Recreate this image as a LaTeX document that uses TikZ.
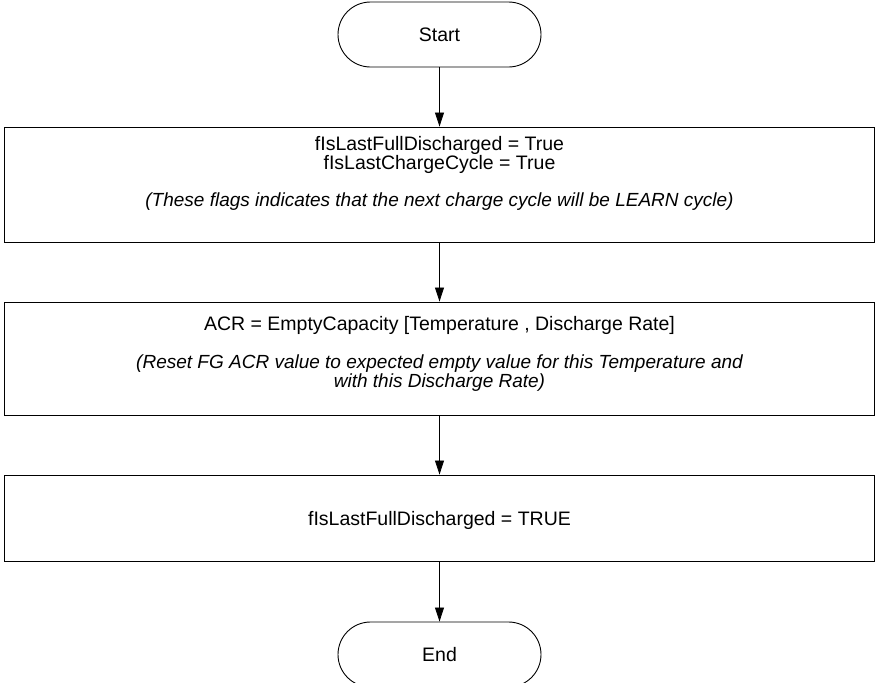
\documentclass[tikz,border=0pt]{standalone}
\usepackage{fontspec}
\setmainfont{Liberation Sans}
\usetikzlibrary{arrows.meta}
\begin{document}
\begin{tikzpicture}[x=1pt,y=-1pt,
  term/.style={draw, line width=0.9pt, rounded corners=32.5pt, minimum width=203pt,
    minimum height=65pt, inner sep=0pt, font=\fontsize{19.5}{22}\selectfont},
  procbox/.style={draw, line width=0.9pt, minimum width=870pt, inner sep=0pt},
  txt/.style={anchor=base, inner sep=0pt, font=\fontsize{19.5}{20}\selectfont},
  itxt/.style={anchor=base, inner sep=0pt, font=\fontsize{19}{20}\selectfont\itshape},
  flow/.style={-{Triangle[length=14pt,width=9pt]}, line width=0.8pt}]
\useasboundingbox (0,0) rectangle (876,683);

% terminals
\node[term] (start) at (439.5,34.5) {Start};
\node[term] (end) at (439.5,654.5) {End};

% process boxes
\node[procbox, minimum height=115pt] (b1) at (439.5,184.5) {};
\node[procbox, minimum height=113pt] (b2) at (439.5,358.5) {};
\node[procbox, minimum height=86pt] (b3) at (439.5,518) {};

% box texts
\node[txt] (b1l1) at (439.5,150) {fIsLastFullDischarged = True};
\node[txt] (b1l2) at (439.5,169.5) {fIsLastChargeCycle = True};
\node[itxt] (b1l3) at (439.5,206.5) {(These flags indicates that the next charge cycle will be LEARN cycle)};

\node[txt] (b2l1) at (439.5,330) {ACR = EmptyCapacity [Temperature , Discharge Rate]};
\node[itxt] (b2l2) at (439.5,368) {(Reset FG ACR value to expected empty value for this Temperature and};
\node[itxt] (b2l3) at (439.5,387) {with this Discharge Rate)};

\node[txt] (b3l1) at (439.5,525) {fIsLastFullDischarged = TRUE};

% connectors
\draw[flow] (start) -- (b1);
\draw[flow] (b1) -- (b2);
\draw[flow] (b2) -- (b3);
\draw[flow] (b3) -- (end);
\end{tikzpicture}
\end{document}
